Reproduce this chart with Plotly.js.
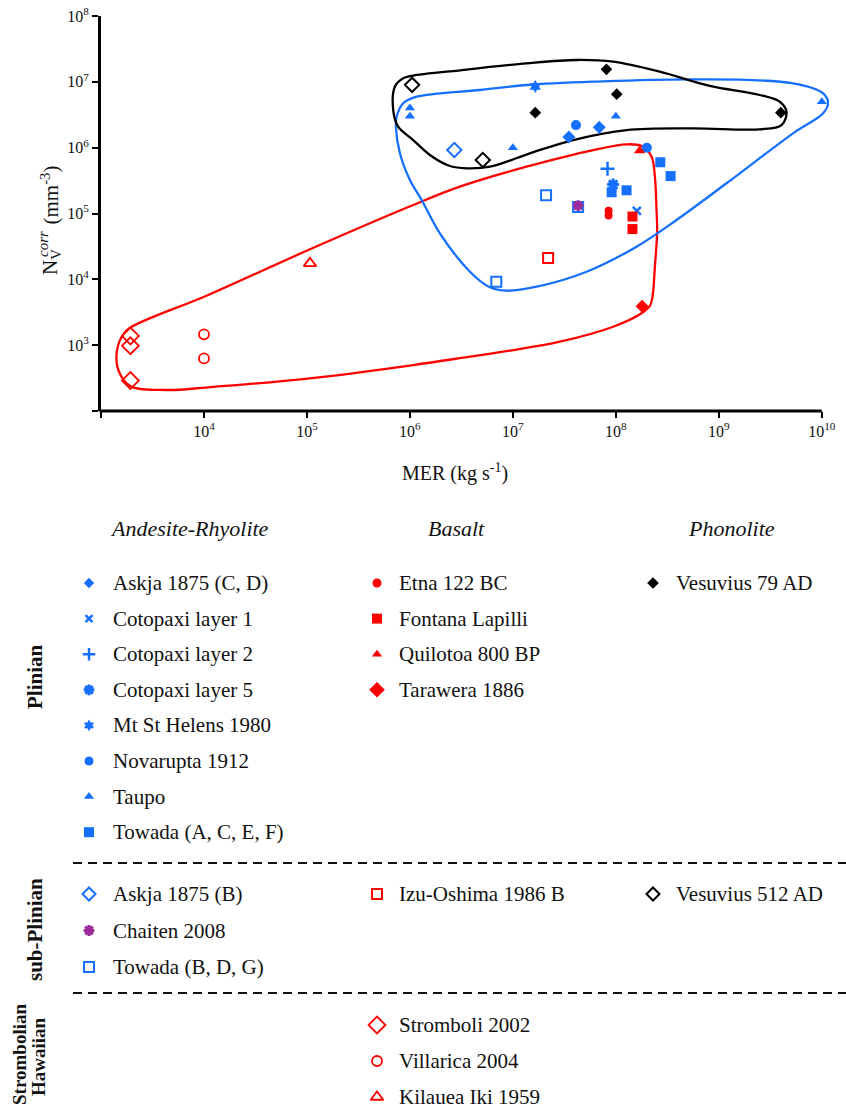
<!DOCTYPE html>
<html><head><meta charset="utf-8">
<script src="https://cdn.plot.ly/plotly-3.0.1.min.js"></script>
<style>html,body{margin:0;padding:0;background:#fff}</style>
</head><body>
<div id="chart" style="width:846px;height:1115px"></div>
<script>
// ---------------- DATA ----------------
const xTickVals = [1e3,1e4,1e5,1e6,1e7,1e8,1e9,1e10];
const xTickText = ['','10<sup>4</sup>','10<sup>5</sup>','10<sup>6</sup>','10<sup>7</sup>','10<sup>8</sup>','10<sup>9</sup>','10<sup>10</sup>'];
const yTickVals = [1e2,1e3,1e4,1e5,1e6,1e7,1e8];
const yTickText = ['','10<sup>3</sup>','10<sup>4</sup>','10<sup>5</sup>','10<sup>6</sup>','10<sup>7</sup>','10<sup>8</sup>'];

const askjaCD_x = [3.5e7, 6.9e7];            const askjaCD_y = [1.45e6, 2.05e6];
const cotopaxi1_x = [1.6e8];                 const cotopaxi1_y = [1.1e5];
const cotopaxi2_x = [8.3e7];                 const cotopaxi2_y = [4.8e5];
const cotopaxi5_x = [9.4e7];                 const cotopaxi5_y = [2.75e5];
const stHelens_x = [1.65e7];                 const stHelens_y = [8.5e6];
const novarupta_x = [4.1e7, 2.0e8];          const novarupta_y = [2.2e6, 1.0e6];
const taupo_x = [1e6, 1e6, 1e7, 1e8, 1e10];  const taupo_y = [4e6, 3e6, 1e6, 3e6, 5e6];
const towadaACEF_x = [2.7e8, 3.4e8, 9.1e7, 1.27e8]; const towadaACEF_y = [6e5, 3.7e5, 2.1e5, 2.25e5];
const etna_x = [8.5e7, 8.5e7];               const etna_y = [1.1e5, 9.3e4];
const fontana_x = [1.45e8, 1.45e8];          const fontana_y = [9e4, 5.8e4];
const quilotoa_x = [1.7e8];                  const quilotoa_y = [9e5];
const tarawera_x = [1.8e8];                  const tarawera_y = [3.9e3];
const vesuv79_x = [8.1e7, 1.02e8, 1.65e7, 4e9]; const vesuv79_y = [1.55e7, 6.5e6, 3.4e6, 3.4e6];
const askjaB_x = [2.7e6];                    const askjaB_y = [9.2e5];
const chaiten_x = [4.3e7];                   const chaiten_y = [1.32e5];
const towadaBDG_x = [2.1e7, 4.3e7, 6.9e6];   const towadaBDG_y = [1.9e5, 1.25e5, 9.2e3];
const izu_x = [2.2e7];                       const izu_y = [2.1e4];
const vesuv512_x = [1.05e6, 5.1e6];          const vesuv512_y = [9e6, 6.5e5];
const stromboli_x = [1.93e3, 1.93e3, 1.93e3]; const stromboli_y = [1.38e3, 9.8e2, 2.9e2];
const villarica_x = [1e4, 1e4];              const villarica_y = [1.46e3, 6.3e2];
const kilauea_x = [1.07e5];                  const kilauea_y = [1.75e4];

// envelope outlines (log10 values)
const redEnvLogX = [5.029,6.032,6.485,7.133,7.780,8.104,8.250,8.347,8.379,8.395,8.401,8.379,8.356,8.330,8.250,7.974,7.456,6.971,6.583,6.032,5.029,4.042,3.638,3.282,3.168,3.152,3.201,3.275,4.042,5.029];
const redEnvLogY = [4.456,5.129,5.407,5.711,5.964,6.051,6.025,5.863,5.559,5.053,4.723,4.192,3.736,3.595,3.484,3.280,3.052,2.916,2.825,2.698,2.496,2.360,2.319,2.380,2.623,2.876,3.128,3.256,3.762,4.456];
const blueEnvLogX = [7.780,8.750,9.721,10.013,10.061,10.013,9.721,9.075,8.589,8.201,7.716,7.230,6.939,6.777,6.583,6.291,6.114,6.000,5.903,5.864,5.871,5.935,6.065,6.680,7.133,7.780];
const blueEnvLogY = [7.002,7.038,6.978,6.826,6.674,6.522,6.218,5.459,4.901,4.496,4.116,3.888,3.827,3.879,4.116,4.699,5.205,5.509,5.914,6.318,6.470,6.674,6.774,6.876,6.952,7.002];
const blackEnvLogX = [7.133,7.618,7.974,8.427,8.913,9.398,9.592,9.657,9.609,9.398,8.750,8.104,7.585,7.165,6.777,6.518,6.388,6.194,6.032,5.886,5.838,5.854,5.935,6.065,6.356,7.133];
const blackEnvLogY = [7.281,7.332,7.306,7.154,6.937,6.800,6.698,6.546,6.344,6.279,6.294,6.268,6.116,5.914,5.711,5.690,5.721,5.889,6.116,6.318,6.572,6.926,7.054,7.104,7.154,7.281];

const typeHeaders = ['Andesite-Rhyolite','Basalt','Phonolite'];
const groupLabels = ['Plinian','sub-Plinian','Strombolian','Hawaiian'];

// ---------------- STYLE ----------------
const W = 846, H = 1115;
const BLUE = '#1570ff', RED = '#ff0000', BLACK = '#000000', PURPLE = '#9b2a9b';
const FONT = 'Liberation Serif, Times New Roman, serif';

// series: data + style + legend placement (group, column, row)
const series = [
  {name:'Askja 1875 (C, D)', x:askjaCD_x, y:askjaCD_y, sym:'diamond', c:BLUE, s:10, ls:8, lw:0, g:0, col:0, row:0},
  {name:'Cotopaxi layer 1', x:cotopaxi1_x, y:cotopaxi1_y, sym:'x-thin', c:BLUE, s:8, ls:7, lw:2.5, g:0, col:0, row:1},
  {name:'Cotopaxi layer 2', x:cotopaxi2_x, y:cotopaxi2_y, sym:'cross-thin', c:BLUE, s:10, ls:9, lw:2.5, g:0, col:0, row:2},
  {name:'Cotopaxi layer 5', x:cotopaxi5_x, y:cotopaxi5_y, sym:'asterisk', c:BLUE, s:10, ls:9, lw:3, g:0, col:0, row:3},
  {name:'Mt St Helens 1980', x:stHelens_x, y:stHelens_y, sym:'hexagram', c:BLUE, s:10, ls:9, lw:0, g:0, col:0, row:4},
  {name:'Novarupta 1912', x:novarupta_x, y:novarupta_y, sym:'circle', c:BLUE, s:10, ls:9, lw:0, g:0, col:0, row:5},
  {name:'Taupo', x:taupo_x, y:taupo_y, sym:'triangle-up', c:BLUE, s:9, ls:9, lw:0, g:0, col:0, row:6},
  {name:'Towada (A, C, E, F)', x:towadaACEF_x, y:towadaACEF_y, sym:'square', c:BLUE, s:10, ls:10, lw:0, g:0, col:0, row:7},
  {name:'Etna 122 BC', x:etna_x, y:etna_y, sym:'circle', c:RED, s:8, ls:9, lw:0, g:0, col:1, row:0},
  {name:'Fontana Lapilli', x:fontana_x, y:fontana_y, sym:'square', c:RED, s:10, ls:10, lw:0, g:0, col:1, row:1},
  {name:'Quilotoa 800 BP', x:quilotoa_x, y:quilotoa_y, sym:'triangle-up', c:RED, s:10, ls:9, lw:0, g:0, col:1, row:2},
  {name:'Tarawera 1886', x:tarawera_x, y:tarawera_y, sym:'diamond', c:RED, s:10, ls:12, lw:0, g:0, col:1, row:3},
  {name:'Vesuvius 79 AD', x:vesuv79_x, y:vesuv79_y, sym:'diamond', c:BLACK, s:9, ls:9, lw:0, g:0, col:2, row:0},
  {name:'Askja 1875 (B)', x:askjaB_x, y:askjaB_y, sym:'diamond-open', c:BLUE, s:11, ls:10, lw:2, g:1, col:0, row:0},
  {name:'Towada (B, D, G)', x:towadaBDG_x, y:towadaBDG_y, sym:'square-open', c:BLUE, s:10, ls:10, lw:2, g:1, col:0, row:2},
  {name:'Chaiten 2008', x:chaiten_x, y:chaiten_y, sym:'asterisk', c:PURPLE, s:9, ls:9, lw:3, g:1, col:0, row:1},
  {name:'Izu-Oshima 1986 B', x:izu_x, y:izu_y, sym:'square-open', c:RED, s:10, ls:10, lw:2, g:1, col:1, row:0},
  {name:'Vesuvius 512 AD', x:vesuv512_x, y:vesuv512_y, sym:'diamond-open', c:BLACK, s:11, ls:10, lw:2, g:1, col:2, row:0},
  {name:'Stromboli 2002', x:stromboli_x, y:stromboli_y, sym:'diamond-open', c:RED, s:13, ls:13, lw:1.8, g:2, col:1, row:0},
  {name:'Villarica 2004', x:villarica_x, y:villarica_y, sym:'circle-open', c:RED, s:10, ls:10, lw:1.8, g:2, col:1, row:1},
  {name:'Kilauea Iki 1959', x:kilauea_x, y:kilauea_y, sym:'triangle-up-open', c:RED, s:11, ls:11, lw:1.8, g:2, col:1, row:2}
];

// plot area in pixels
const PL = 101, PR = 829, PT = 16, PB = 411;
const xRange = [3, 10.07], yRange = [2, 8];
const px = v => v / W, py = v => 1 - v / H;

// legend layout (pixels)
const groupRowStart = [583, 894, 1025];
const groupRowStep = [35.6, 36.5, 36];
const colMarkX = [89, 377, 653];
const colTextX = [111, 397, 674];
const headerX = [189, 457, 731];
const headerY = 528;
const dashY = [863, 993];
const groupLabelPos = [[35, 677], [35, 930], [19, 1055], [38, 1057]];
const groupLabelSize = [21, 21, 19, 19];

const traces = [];
const pow10 = a => a.map(v => Math.pow(10, v));
[[redEnvLogX, redEnvLogY, RED], [blueEnvLogX, blueEnvLogY, BLUE], [blackEnvLogX, blackEnvLogY, BLACK]].forEach(e => {
  traces.push({x: pow10(e[0]), y: pow10(e[1]), mode: 'lines', line: {color: e[2], width: 2.3, shape: 'spline', smoothing: 1}, hoverinfo: 'skip', xaxis: 'x', yaxis: 'y'});
});
series.forEach(s => {
  traces.push({x: s.x, y: s.y, mode: 'markers', name: s.name, xaxis: 'x', yaxis: 'y', cliponaxis: false,
    marker: {symbol: s.sym, size: s.s, color: s.c, line: {color: s.c, width: s.lw}}});
});
// legend markers
series.forEach(s => {
  const ly = groupRowStart[s.g] + s.row * groupRowStep[s.g];
  traces.push({x: [colMarkX[s.col]], y: [ly], mode: 'markers', xaxis: 'x2', yaxis: 'y2', hoverinfo: 'skip', cliponaxis: false,
    marker: {symbol: s.sym, size: s.ls, color: s.c, line: {color: s.c, width: s.lw}}});
});

const annotations = [];
series.forEach(s => {
  const ly = groupRowStart[s.g] + s.row * groupRowStep[s.g];
  annotations.push({xref: 'paper', yref: 'paper', x: px(colTextX[s.col]), y: py(ly), xanchor: 'left', yanchor: 'middle',
    text: s.name, showarrow: false, font: {family: FONT, size: 21, color: '#111'}});
});
typeHeaders.forEach((t, i) => annotations.push({xref: 'paper', yref: 'paper', x: px(headerX[i]), y: py(headerY), xanchor: 'center', yanchor: 'middle',
  text: '<i>' + t + '</i>', showarrow: false, font: {family: FONT, size: 22, color: '#111'}}));
groupLabels.forEach((t, i) => annotations.push({xref: 'paper', yref: 'paper', x: px(groupLabelPos[i][0]), y: py(groupLabelPos[i][1]), xanchor: 'center', yanchor: 'middle',
  text: '<b>' + t + '</b>', textangle: -90, showarrow: false, font: {family: FONT, size: groupLabelSize[i], color: '#111'}}));
// axis titles
annotations.push({xref: 'paper', yref: 'paper', x: px(455), y: py(473), xanchor: 'center', yanchor: 'middle',
  text: 'MER (kg s<sup>-1</sup>)', showarrow: false, font: {family: FONT, size: 20, color: '#111'}});
annotations.push({xref: 'paper', yref: 'paper', x: px(51), y: py(277), xanchor: 'center', yanchor: 'bottom', textangle: -90,
  text: 'N<sub>V</sub>', showarrow: false, font: {family: FONT, size: 21, color: '#111'}});
annotations.push({xref: 'paper', yref: 'paper', x: px(43), y: py(259), xanchor: 'center', yanchor: 'bottom', textangle: -90,
  text: '<i>corr</i>', showarrow: false, font: {family: FONT, size: 15, color: '#111'}});
annotations.push({xref: 'paper', yref: 'paper', x: px(50), y: py(227), xanchor: 'center', yanchor: 'bottom', textangle: -90,
  text: '(mm<sup>-3</sup>)', showarrow: false, font: {family: FONT, size: 21, color: '#111'}});

const xd0 = PL / W, xd1 = PR / W;
const xAt = v => xd0 + (v - xRange[0]) / (xRange[1] - xRange[0]) * (xd1 - xd0);
const shapes = [
  {type: 'line', xref: 'paper', yref: 'paper', x0: xAt(3) - 1.5 / W, x1: xAt(10), y0: py(PB), y1: py(PB), line: {color: '#000', width: 3}}
];
dashY.forEach(d => shapes.push({type: 'line', xref: 'paper', yref: 'paper', x0: px(73), x1: 1, y0: py(d), y1: py(d), line: {color: '#111', width: 2, dash: '9px,6px'}}));

const layout = {
  width: W, height: H, margin: {l: 0, r: 0, t: 0, b: 0}, paper_bgcolor: '#fff', plot_bgcolor: 'rgba(0,0,0,0)',
  showlegend: false, font: {family: FONT, color: '#111'},
  xaxis: {type: 'log', domain: [xd0, xd1], range: xRange, anchor: 'y', showline: false, showgrid: false, zeroline: false,
    ticks: 'outside', ticklen: 6, tickwidth: 2, tickcolor: '#000', tickvals: xTickVals, ticktext: xTickText,
    tickfont: {family: FONT, size: 16, color: '#111'}, fixedrange: true},
  yaxis: {type: 'log', domain: [py(PB), py(PT)], range: yRange, anchor: 'x', showline: true, linewidth: 3, linecolor: '#000',
    showgrid: false, zeroline: false, ticks: 'outside', ticklen: 6, tickwidth: 2, tickcolor: '#000',
    tickvals: yTickVals, ticktext: yTickText, tickfont: {family: FONT, size: 16, color: '#111'}, fixedrange: true},
  xaxis2: {domain: [0, 1], range: [0, W], anchor: 'y2', visible: false, fixedrange: true},
  yaxis2: {domain: [0, 1], range: [H, 0], anchor: 'x2', visible: false, fixedrange: true},
  annotations: annotations, shapes: shapes
};
Plotly.newPlot('chart', traces, layout, {displayModeBar: false, staticPlot: true});
</script>
</body></html>
